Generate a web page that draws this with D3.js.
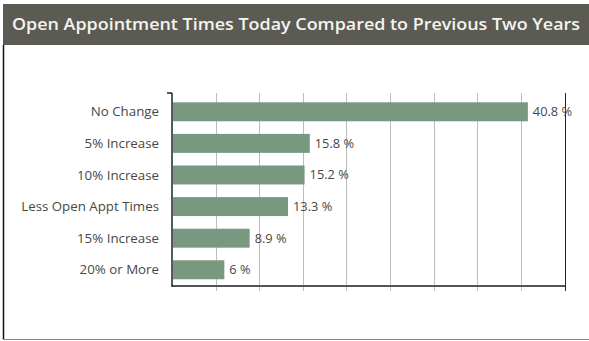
<!DOCTYPE html>
<html>
<head>
<meta charset="utf-8">
<script src="https://cdn.jsdelivr.net/npm/d3@7"></script>
<style>
  html, body { margin: 0; padding: 0; background: #ffffff; }
  svg { display: block; }
</style>
</head>
<body>
<svg id="chart" width="589" height="341"></svg>
<script>
// Survey responses: change in open appointment times
const categories = ["No Change", "5% Increase", "10% Increase", "Less Open Appt Times", "15% Increase", "20% or More"];
const values = [40.8, 15.8, 15.2, 13.3, 8.9, 6];
const valueLabels = ["40.8 %", "15.8 %", "15.2 %", "13.3 %", "8.9 %", "6 %"];
const gridTicks = [0, 5, 10, 15, 20, 25, 30, 35, 40, 45];
const titleText = "Open Appointment Times Today Compared to Previous Two Years";

(function drawChart() {
  const svg = d3.select("#chart");
  const W = 589;

  // Header band
  svg.append("rect").attr("x", 3).attr("y", 4).attr("width", W - 3).attr("height", 41)
    .attr("fill", "#5b5b53");
  svg.append("text")
    .attr("x", 12).attr("y", 30)
    .attr("fill", "#f4f4ee")
    .attr("font-family", "'Open Sans', sans-serif")
    .attr("font-weight", 600)
    .attr("font-size", 15.5)
    .attr("textLength", 568)
    .attr("lengthAdjust", "spacingAndGlyphs")
    .text(titleText);

  // Frame lines
  svg.append("line").attr("x1", 3.5).attr("x2", 3.5).attr("y1", 45).attr("y2", 340)
    .attr("stroke", "#111").attr("stroke-width", 1.5);
  svg.append("line").attr("x1", 3).attr("x2", W).attr("y1", 339.5).attr("y2", 339.5)
    .attr("stroke", "#888").attr("stroke-width", 1);

  // Plot area
  const plotLeft = 172, plotRight = 564.5, plotTop = 93, plotBottom = 286;
  const x = d3.scaleLinear().domain([0, 45]).range([plotLeft, plotRight]);
  const y = d3.scaleBand().domain(categories).range([plotTop, plotBottom])
    .paddingInner(0.4).paddingOuter(0.254).align(0.58);

  // Vertical gridlines (extend below the baseline as tick marks)
  svg.append("g").selectAll("line").data(gridTicks.slice(1)).join("line")
    .attr("x1", d => Math.round(x(d)) + 0.5).attr("x2", d => Math.round(x(d)) + 0.5)
    .attr("y1", plotTop).attr("y2", plotBottom + 5)
    .attr("stroke", (d, i) => i === gridTicks.length - 2 ? "#222" : "#bdbdbd")
    .attr("stroke-width", 1);

  // Bars
  svg.append("g").selectAll("rect").data(values).join("rect")
    .attr("x", x(0) + 1)
    .attr("y", (d, i) => y(categories[i]))
    .attr("width", d => x(d) - x(0) - 1)
    .attr("height", y.bandwidth())
    .attr("fill", "#789880");

  // Value labels
  svg.append("g").selectAll("text").data(values).join("text")
    .attr("x", d => x(d) + 5)
    .attr("y", (d, i) => y(categories[i]) + y.bandwidth() / 2)
    .attr("dy", "0.35em")
    .attr("fill", "#484848")
    .attr("font-family", "'Open Sans', sans-serif")
    .attr("font-size", 12.8)
    .text((d, i) => valueLabels[i]);

  // Category labels
  svg.append("g").selectAll("text").data(categories).join("text")
    .attr("x", 159)
    .attr("y", d => y(d) + y.bandwidth() / 2)
    .attr("dy", "0.35em")
    .attr("text-anchor", "end")
    .attr("fill", "#484848")
    .attr("font-family", "'Open Sans', sans-serif")
    .attr("font-size", 13.3)
    .text(d => d);

  // Axes
  svg.append("line").attr("x1", plotLeft).attr("x2", plotRight + 0.5).attr("y1", plotBottom).attr("y2", plotBottom)
    .attr("stroke", "#555").attr("stroke-width", 2);
  svg.append("line").attr("x1", plotLeft).attr("x2", plotLeft).attr("y1", plotTop).attr("y2", plotBottom + 1)
    .attr("stroke", "#222").attr("stroke-width", 1.5);
  svg.append("line").attr("x1", plotLeft - 5).attr("x2", plotLeft).attr("y1", plotTop).attr("y2", plotTop)
    .attr("stroke", "#222").attr("stroke-width", 1.5);
})();
</script>
</body>
</html>
